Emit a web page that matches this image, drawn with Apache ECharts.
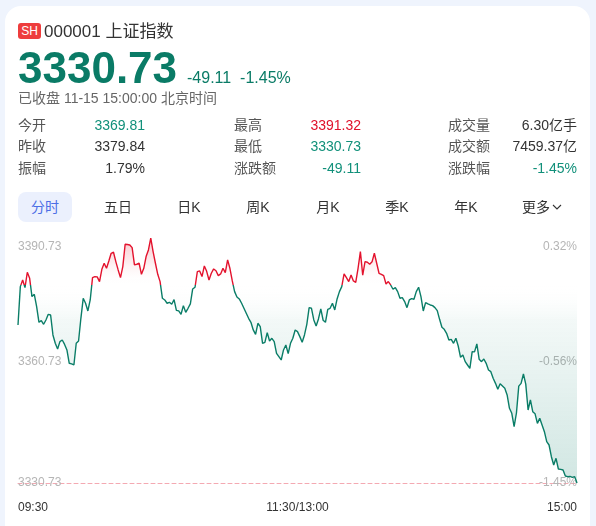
<!DOCTYPE html>
<html>
<head>
<meta charset="utf-8">
<script src="https://cdn.jsdelivr.net/npm/echarts@6/dist/echarts.min.js"></script>
<style>
  html, body { margin: 0; padding: 0; }
  body {
    width: 596px; height: 526px; overflow: hidden; position: relative;
    background: #eff4fd;
    font-family: "Liberation Sans", "Noto Sans CJK SC", Arial, sans-serif;
    color: #333;
  }
  .card { position: absolute; left: 5px; top: 6px; width: 585px; height: 560px; background: #fff; border-radius: 16px; }
  #chart { position: absolute; left: 0; top: 0; width: 596px; height: 526px; }
  .abs { position: absolute; white-space: nowrap; }
  .badge { left: 18px; top: 23px; width: 23px; height: 16px; line-height: 16px; background: #ee3d3d; color: #fff;
           border-radius: 3px; font-size: 12px; text-align: center; }
  .title { left: 44px; top: 23px; font-size: 17px; line-height: 17px; color: #333; }
  .last { left: 18px; top: 46px; font-size: 44px; line-height: 44px; font-weight: bold; color: #0a7b66; }
  .chg { left: 187px; top: 70px; font-size: 16px; line-height: 16px; color: #0a7b66; }
  .status { left: 18px; top: 91px; font-size: 14px; line-height: 14px; color: #666; }
  .row { font-size: 14px; line-height: 20px; height: 20px; }
  .lbl { color: #555; }
  .val { text-align: right; color: #333; }
  .g { color: #11907a; }
  .r { color: #e0112b; }
  .tab { top: 197px; font-size: 14px; line-height: 20px; color: #333; transform: translateX(-50%); }
  .tab-on { left: 18px; top: 192px; width: 54px; height: 30px; line-height: 30px; border-radius: 8px; background: #ebf0fd;
            color: #4c6ee6; font-size: 14px; text-align: center; }
</style>
</head>
<body>
<div class="card"></div>
<div id="chart"></div>

<div class="abs badge">SH</div>
<div class="abs title">000001 上证指数</div>
<div class="abs last">3330.73</div>
<div class="abs chg">-49.11&nbsp;&nbsp;-1.45%</div>
<div class="abs status">已收盘 11-15 15:00:00 北京时间</div>

<div class="abs row lbl" style="left:18px;top:115px">今开</div>
<div class="abs row val g" style="left:60px;width:85px;top:115px">3369.81</div>
<div class="abs row lbl" style="left:18px;top:136px">昨收</div>
<div class="abs row val" style="left:60px;width:85px;top:136px">3379.84</div>
<div class="abs row lbl" style="left:18px;top:158px">振幅</div>
<div class="abs row val" style="left:60px;width:85px;top:158px">1.79%</div>

<div class="abs row lbl" style="left:234px;top:115px">最高</div>
<div class="abs row val r" style="left:276px;width:85px;top:115px">3391.32</div>
<div class="abs row lbl" style="left:234px;top:136px">最低</div>
<div class="abs row val g" style="left:276px;width:85px;top:136px">3330.73</div>
<div class="abs row lbl" style="left:234px;top:158px">涨跌额</div>
<div class="abs row val g" style="left:276px;width:85px;top:158px">-49.11</div>

<div class="abs row lbl" style="left:448px;top:115px">成交量</div>
<div class="abs row val" style="left:492px;width:85px;top:115px">6.30亿手</div>
<div class="abs row lbl" style="left:448px;top:136px">成交额</div>
<div class="abs row val" style="left:492px;width:85px;top:136px">7459.37亿</div>
<div class="abs row lbl" style="left:448px;top:158px">涨跌幅</div>
<div class="abs row val g" style="left:492px;width:85px;top:158px">-1.45%</div>

<div class="abs tab-on">分时</div>
<div class="abs tab" style="left:118px">五日</div>
<div class="abs tab" style="left:189px">日K</div>
<div class="abs tab" style="left:258px">周K</div>
<div class="abs tab" style="left:328px">月K</div>
<div class="abs tab" style="left:397px">季K</div>
<div class="abs tab" style="left:466px">年K</div>
<div class="abs tab" style="left:542px">更多<svg width="10" height="8" viewBox="0 0 10 8" style="margin-left:2px;vertical-align:1px"><path d="M1 2 L5 6 L9 2" fill="none" stroke="#333" stroke-width="1.1"/></svg></div>

<script>
// Previous close and the axis range shown on the intraday chart
const prevClose = 3379.84;
const axisMin = 3330.73;
const axisMax = 3390.73;
const yTicks = [3330.73, 3360.73, 3390.73];
const xTickLabels = ['09:30', '11:30/13:00', '15:00'];

// One price per minute: 09:30-11:30, then 13:01-15:00
const prices = [
  3369.81, 3379.32, 3380.97, 3379.07, 3382.87, 3381.38, 3376.85, 3377.42, 3374.37, 3370.49,
  3370.91, 3370.00, 3371.07, 3372.47, 3372.30, 3367.36, 3365.30, 3363.89, 3365.71, 3366.12,
  3365.02, 3363.65, 3360.35, 3360.20, 3359.93, 3365.30, 3365.87, 3371.48, 3376.43, 3375.20,
  3373.30, 3376.02, 3381.55, 3381.80, 3381.72, 3380.56, 3383.61, 3385.10, 3383.86, 3385.67,
  3387.57, 3387.82, 3385.51, 3383.45, 3381.55, 3384.27, 3389.80, 3389.75, 3389.63, 3388.97,
  3384.68, 3384.85, 3385.10, 3382.37, 3383.86, 3386.75, 3388.40, 3391.32, 3387.98, 3385.10,
  3382.37, 3380.56, 3376.43, 3376.02, 3375.20, 3375.44, 3374.95, 3376.10, 3373.46, 3373.30,
  3372.47, 3374.62, 3372.97, 3373.96, 3375.03, 3378.74, 3379.16, 3383.03, 3383.20, 3381.80,
  3384.44, 3383.10, 3380.97, 3382.62, 3383.69, 3383.25, 3382.04, 3382.46, 3383.86, 3382.79,
  3385.92, 3383.80, 3380.72, 3378.08, 3376.76, 3376.27, 3375.20, 3373.96, 3372.72, 3371.48,
  3370.49, 3368.60, 3367.52, 3370.25, 3369.42, 3365.30, 3365.54, 3367.94, 3365.87, 3366.53,
  3365.71, 3362.82, 3362.00, 3361.17, 3363.65, 3364.88, 3362.75, 3365.30, 3366.53, 3368.60,
  3368.18, 3366.95, 3365.54, 3367.36, 3370.00, 3374.12, 3373.96, 3371.07, 3369.59, 3371.32,
  3373.79, 3371.00, 3370.49, 3373.70, 3373.96, 3375.20, 3373.55, 3376.27, 3378.08, 3379.32,
  3382.46, 3381.55, 3380.56, 3382.21, 3380.72, 3380.39, 3383.86, 3387.98, 3382.15, 3385.51,
  3385.34, 3384.85, 3385.45, 3387.57, 3385.10, 3382.62, 3382.37, 3382.04, 3379.98, 3380.56,
  3379.73, 3378.66, 3379.07, 3378.08, 3376.43, 3376.60, 3375.61, 3374.12, 3376.02, 3376.35,
  3376.20, 3378.08, 3379.16, 3376.85, 3373.30, 3375.36, 3375.03, 3374.78, 3374.62, 3374.12,
  3373.38, 3371.23, 3369.25, 3368.76, 3367.77, 3366.12, 3366.28, 3365.29, 3366.53, 3364.63,
  3361.83, 3362.41, 3360.76, 3359.93, 3359.11, 3363.23, 3363.18, 3365.13, 3361.33, 3360.76,
  3361.42, 3360.34, 3358.69, 3358.28, 3356.63, 3355.39, 3353.91, 3355.30, 3354.73, 3354.16,
  3352.51, 3349.21, 3347.97, 3344.67, 3348.05, 3354.70, 3355.39, 3357.70, 3355.20, 3348.79,
  3351.27, 3348.38, 3347.85, 3345.49, 3346.73, 3345.08, 3343.43, 3340.96, 3340.13, 3337.24,
  3335.18, 3336.83, 3334.19, 3334.11, 3333.94, 3332.46, 3332.29, 3332.35, 3332.13, 3332.29,
  3330.73
];

// Minute categories for the trading session
const times = [];
const hhmm = m => String(Math.floor(m / 60)).padStart(2, '0') + ':' + String(m % 60).padStart(2, '0');
for (let m = 9 * 60 + 30; m <= 11 * 60 + 30; m++) times.push(hhmm(m));
for (let m = 13 * 60 + 1; m <= 15 * 60; m++) times.push(hhmm(m));
const labelIndex = [0, 120, times.length - 1];

const upColor = '#e3122d';
const downColor = '#0a7d67';

const pct = v => {
  const p = Math.trunc(((v / prevClose) - 1) * 10000) / 100;
  return p.toFixed(2) + '%';
};

const chart = echarts.init(document.getElementById('chart'), null, { renderer: 'canvas' });

const gridTop = 240.5;
const gridBottom = 43;
const plotBottom = 526 - gridBottom;
// share of the plot height that lies above the previous-close level
const baseStop = (axisMax - prevClose) / (axisMax - axisMin);

const baseY = {
  type: 'value',
  min: axisMin,
  max: axisMax,
  axisLine: { show: false },
  axisTick: { show: false },
  splitLine: { show: false }
};

chart.setOption({
  animation: false,
  grid: { left: 18, right: 19, top: gridTop, bottom: gridBottom, containLabel: false },
  xAxis: {
    type: 'category',
    data: times,
    boundaryGap: false,
    axisLine: { show: true, onZero: false, lineStyle: { type: [4, 3], color: '#f4a9b2', width: 1 } },
    axisTick: { show: false },
    splitLine: { show: false },
    axisLabel: {
      interval: (idx) => labelIndex.indexOf(idx) >= 0,
      formatter: (v, idx) => xTickLabels[labelIndex.indexOf(idx)] || v,
      color: '#333',
      fontSize: 12,
      margin: 19,
      alignMinLabel: 'left',
      alignMaxLabel: 'right',
      fontFamily: '"Liberation Sans", Arial, sans-serif'
    }
  },
  yAxis: [
    Object.assign({}, baseY, {
      position: 'left',
      axisLabel: {
        inside: true, margin: 0, color: '#b5b5b5', fontSize: 12,
        customValues: yTicks,
        formatter: v => v.toFixed(2),
        verticalAlignMaxLabel: 'top',
        fontFamily: '"Liberation Sans", Arial, sans-serif'
      }
    }),
    Object.assign({}, baseY, {
      position: 'right',
      axisLabel: {
        inside: true, margin: 0, color: '#b5b5b5', fontSize: 12,
        customValues: yTicks,
        formatter: pct,
        verticalAlignMaxLabel: 'top',
        fontFamily: '"Liberation Sans", Arial, sans-serif'
      }
    })
  ],
  visualMap: {
    show: false,
    type: 'piecewise',
    seriesIndex: 0,
    dimension: 1,
    pieces: [
      { gt: prevClose, lte: 3500, color: upColor },
      { gte: 3200, lte: prevClose, color: downColor }
    ]
  },
  series: [{
    type: 'line',
    data: prices,
    yAxisIndex: 0,
    symbol: 'none',
    showSymbol: false,
    clip: false,
    z: 3,
    lineStyle: { width: 1.4 },
    areaStyle: {
      origin: prevClose,
      opacity: 1,
      color: new echarts.graphic.LinearGradient(0, gridTop, 0, plotBottom, [
        { offset: 0, color: 'rgba(230,22,45,0.22)' },
        { offset: baseStop * 0.5, color: 'rgba(230,22,45,0.08)' },
        { offset: baseStop, color: 'rgba(255,255,255,0)' },
        { offset: baseStop + 0.15, color: 'rgba(10,125,103,0.05)' },
        { offset: 1, color: 'rgba(10,125,103,0.19)' }
      ], true)
    }
  }]
});
</script>
</body>
</html>
